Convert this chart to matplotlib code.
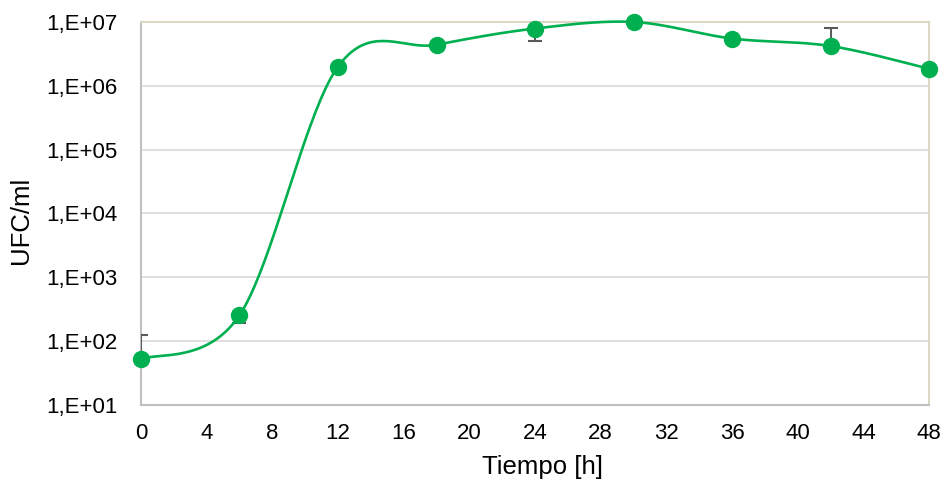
import numpy as np
import matplotlib
matplotlib.use("Agg")
import matplotlib.pyplot as plt

plt.rcParams['font.family'] = ['Liberation Sans', 'DejaVu Sans']

# growth curve data
tiempo = [0, 6, 12, 18, 24, 30, 36, 42, 48]
ufc = [52, 255, 2.0e6, 4.4e6, 7.9e6, 1.0e7, 5.5e6, 4.2e6, 1.85e6]
err_low = [0, 65, 0, 0, 2.9e6, 0, 0, 0, 0]
err_high = [75, 0, 0, 0, 0, 0, 0, 3.9e6, 0]

y_ticks = [1e1, 1e2, 1e3, 1e4, 1e5, 1e6, 1e7]
y_labels = ['1,E+01', '1,E+02', '1,E+03', '1,E+04', '1,E+05', '1,E+06', '1,E+07']
x_ticks = [0, 4, 8, 12, 16, 20, 24, 28, 32, 36, 40, 44, 48]

green = '#00B050'


def smooth_curve(x, y, n=40):
    # Catmull-Rom through the points, done in log space for the y values
    px = np.asarray(x, float)
    py = np.log10(np.asarray(y, float))
    px = np.concatenate([[px[0]], px, [px[-1]]])
    py = np.concatenate([[py[0]], py, [py[-1]]])
    xs, ys = [], []
    t = np.linspace(0, 1, n)
    for i in range(1, len(px) - 2):
        p0, p1, p2, p3 = (np.array([px[j], py[j]]) for j in (i - 1, i, i + 1, i + 2))
        c1 = p1 + (p2 - p0) / 6.0
        c2 = p2 - (p3 - p1) / 6.0
        b = ((1 - t) ** 3)[:, None] * p1 + (3 * (1 - t) ** 2 * t)[:, None] * c1 \
            + (3 * (1 - t) * t ** 2)[:, None] * c2 + (t ** 3)[:, None] * p2
        xs.append(b[:, 0])
        ys.append(b[:, 1])
    return np.concatenate(xs), 10 ** np.concatenate(ys)


fig = plt.figure(figsize=(9.5, 4.83), dpi=100)
ax = fig.add_axes([0.1484, 0.1615, 0.8296, 0.793])

ax.set_yscale('log')
ax.set_ylim(1e1, 1e7)
ax.set_xlim(0, 48)

sx, sy = smooth_curve(tiempo, ufc)
ax.plot(sx, sy, color=green, lw=1.9, zorder=4, clip_on=False)
ax.errorbar(tiempo, ufc, yerr=[err_low, err_high], fmt='none', ecolor='#595959',
            elinewidth=1.4, capsize=5, capthick=1.5, zorder=3)
ax.plot(tiempo, ufc, 'o', color=green, ms=11.5, zorder=5, clip_on=False)

ax.set_yticks(y_ticks)
ax.set_yticklabels(y_labels)
ax.yaxis.set_minor_locator(matplotlib.ticker.NullLocator())
ax.set_xticks(x_ticks)
ax.tick_params(axis='both', length=0, labelsize=16, colors='#000000')
ax.tick_params(axis='y', pad=17)
ax.tick_params(axis='x', pad=13)

ax.grid(axis='y', color='#d9d9d9', lw=1.2)
ax.set_axisbelow(True)
for side in ('left', 'bottom'):
    ax.spines[side].set_color('#bfbfbf')
    ax.spines[side].set_linewidth(1.5)
for side in ('top', 'right'):
    ax.spines[side].set_color('#dcd8c6')
    ax.spines[side].set_linewidth(1.5)

fig.text(543 / 950, 1 - 467 / 483, 'Tiempo [h]', fontsize=18.5, ha='center', va='center')
fig.text(21 / 950, 1 - 220 / 483, 'UFC/ml', fontsize=18.5, rotation=90,
         ha='center', va='center')

fig.savefig('out.png', dpi=100)
